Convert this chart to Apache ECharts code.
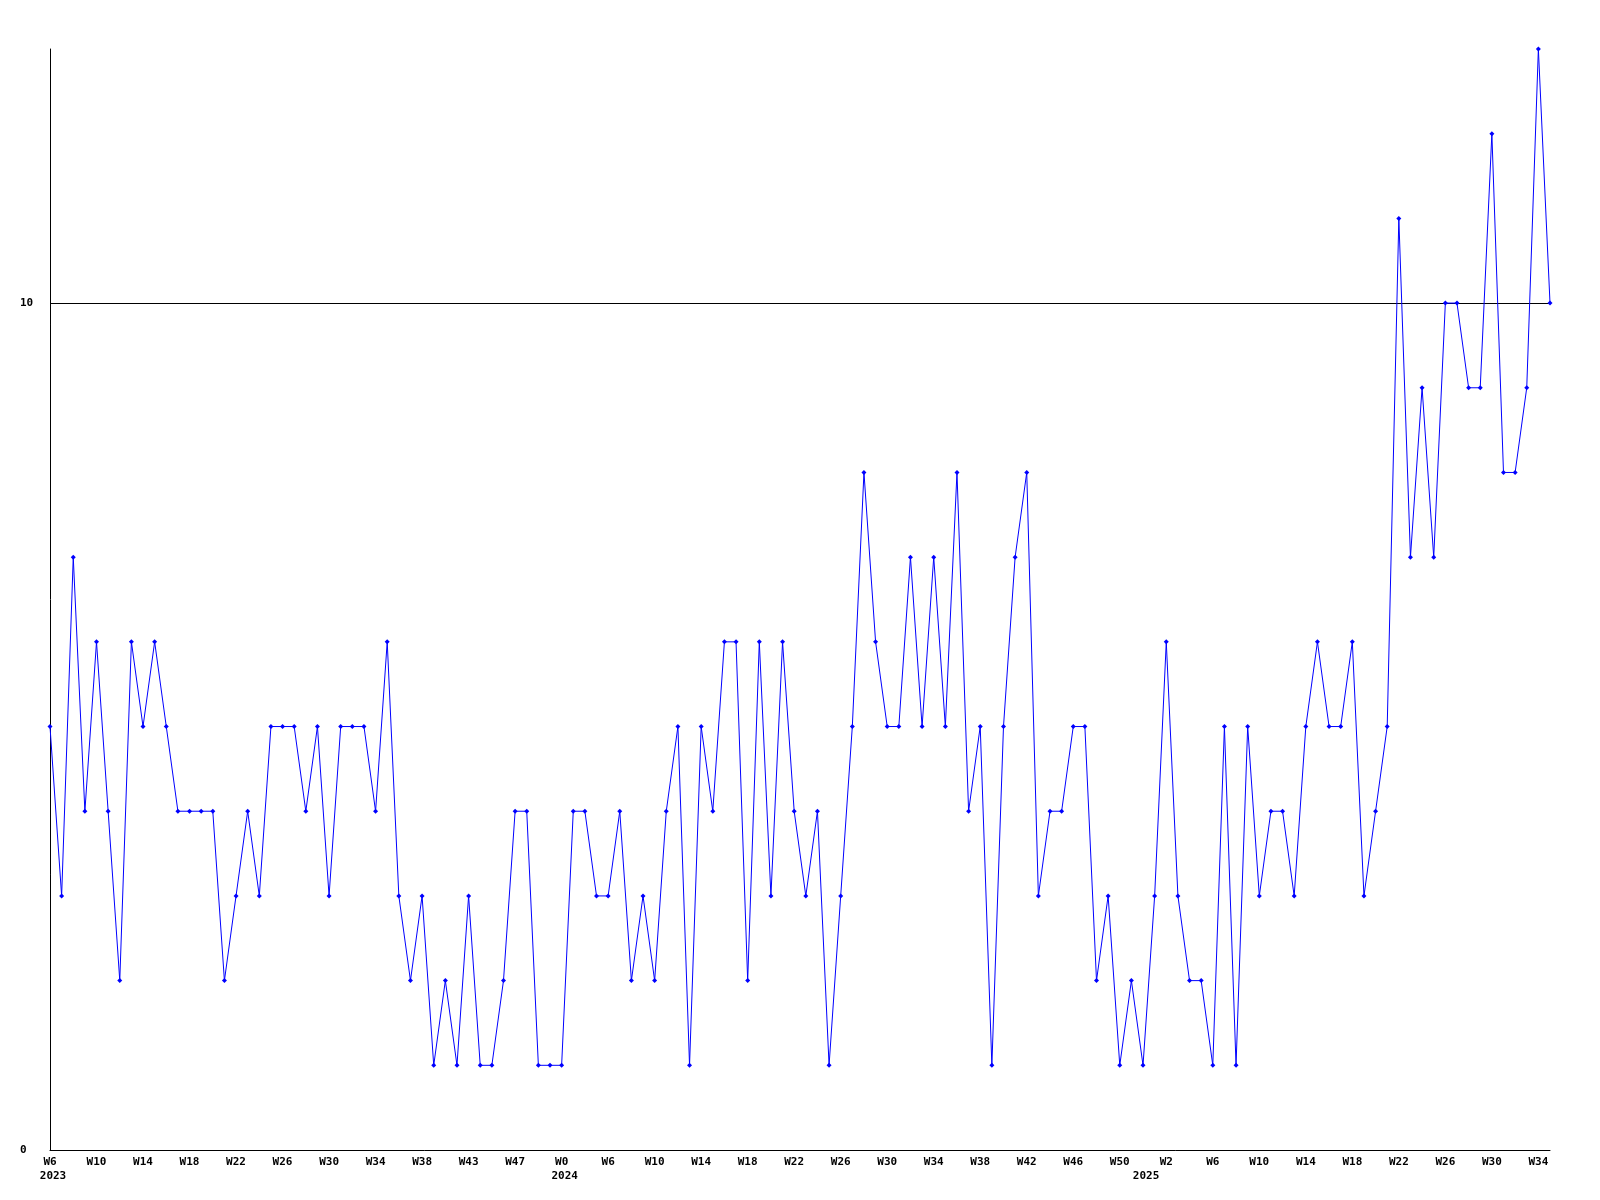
<!DOCTYPE html>
<html>
<head>
<meta charset="utf-8">
<script src="https://cdn.jsdelivr.net/npm/echarts@6/dist/echarts.min.js"></script>
<style>
  html, body { margin: 0; padding: 0; background: #fff; }
  #chart { width: 1600px; height: 1200px; }
</style>
</head>
<body>
<div id="chart"></div>
<script>
// Week categories (one per point)
const weeks = [
  'W6','W7','W8','W9','W10','W11','W12','W13','W14','W15','W16','W17','W18','W19','W20','W21','W22','W23',
  'W24','W25','W26','W27','W28','W29','W30','W31','W32','W33','W34','W35','W36','W37','W38','W39','W40','W41',
  'W43','W44','W45','W46','W47','W48','W49','W50',
  'W0','W1','W2','W3',
  'W6','W7','W8','W9','W10','W11','W12','W13','W14','W15','W16','W17','W18','W19','W20','W21','W22','W23',
  'W24','W25','W26','W27','W28','W29','W30','W31','W32','W33','W34','W35','W36','W37','W38','W39','W40','W41',
  'W42','W43','W44','W45','W46','W47','W48','W49','W50','W51','W52','W1',
  'W2','W3','W4','W5','W6','W7','W8','W9','W10','W11','W12','W13','W14','W15','W16','W17','W18','W19',
  'W20','W21','W22','W23','W24','W25','W26','W27','W28','W29','W30','W31','W32','W33','W34','W35'
];

// Values per week
const values = [
  5,3,7,4,6,4,2,6,5,6,5,4,4,4,4,2,3,4,3,5,5,5,
  4,5,3,5,5,5,4,6,3,2,3,1,2,1,3,1,1,2,4,4,1,1,
  1,4,4,3,3,4,2,3,2,4,5,1,5,4,6,6,2,6,3,6,4,3,4,
  1,3,5,8,6,5,5,7,5,7,5,8,4,5,1,5,7,8,3,4,4,5,
  5,2,3,1,2,1,3,6,3,2,2,1,5,1,5,3,4,4,3,5,6,5,5,
  6,3,4,5,11,7,9,7,10,10,9,9,12,8,8,9,13,10
];

// Year labels and the category index they sit under
const yearLabels = ['2023', '2024', '2025'];
const yearIndex = [0, 44, 94];

// Y axis range / tick step
const yMin = 0, yMax = 13, yStep = 10;

const yearAt = {};
yearIndex.forEach((ix, k) => { yearAt[ix] = yearLabels[k]; });

const font = {
  fontFamily: '"DejaVu Sans Mono", monospace',
  fontSize: 11,
  fontWeight: 'bold',
  color: '#000'
};

const chart = echarts.init(document.getElementById('chart'), null, { renderer: 'canvas' });
chart.setOption({
  animation: false,
  backgroundColor: '#ffffff',
  grid: { left: 50, right: 50, top: 49, bottom: 50, outerBoundsMode: 'none' },
  xAxis: [
    {
      type: 'category',
      data: weeks,
      boundaryGap: false,
      axisLine: { show: true, lineStyle: { color: '#000', width: 1 } },
      axisTick: { show: false },
      splitLine: { show: false },
      axisLabel: Object.assign({ interval: 3, margin: 7 }, font)
    },
    {
      type: 'category',
      data: weeks,
      boundaryGap: false,
      position: 'bottom',
      offset: 14,
      axisLine: { show: false },
      axisTick: { show: false },
      splitLine: { show: false },
      axisLabel: Object.assign({
        margin: 7,
        interval: (i) => yearAt[i] !== undefined,
        formatter: (v, i) => yearAt[i] || '',
        padding: [0, 0, 0, 6]
      }, font)
    }
  ],
  yAxis: {
    type: 'value',
    min: yMin,
    max: yMax,
    interval: yStep,
    axisLine: { show: true, lineStyle: { color: '#000', width: 1 } },
    axisTick: { show: false },
    splitLine: { show: true, showMinLine: false, showMaxLine: false, lineStyle: { color: '#000', width: 1 } },
    axisLabel: Object.assign({ align: 'left', margin: 30, showMaxLabel: false }, font)
  },
  series: [{
    type: 'line',
    xAxisIndex: 0,
    data: values,
    showAllSymbol: true,
    symbol: 'diamond',
    symbolSize: 5,
    color: '#0000ff',
    itemStyle: { color: '#0000ff' },
    lineStyle: { color: '#0000ff', width: 1 },
    emphasis: { disabled: true }
  }]
});
</script>
</body>
</html>
